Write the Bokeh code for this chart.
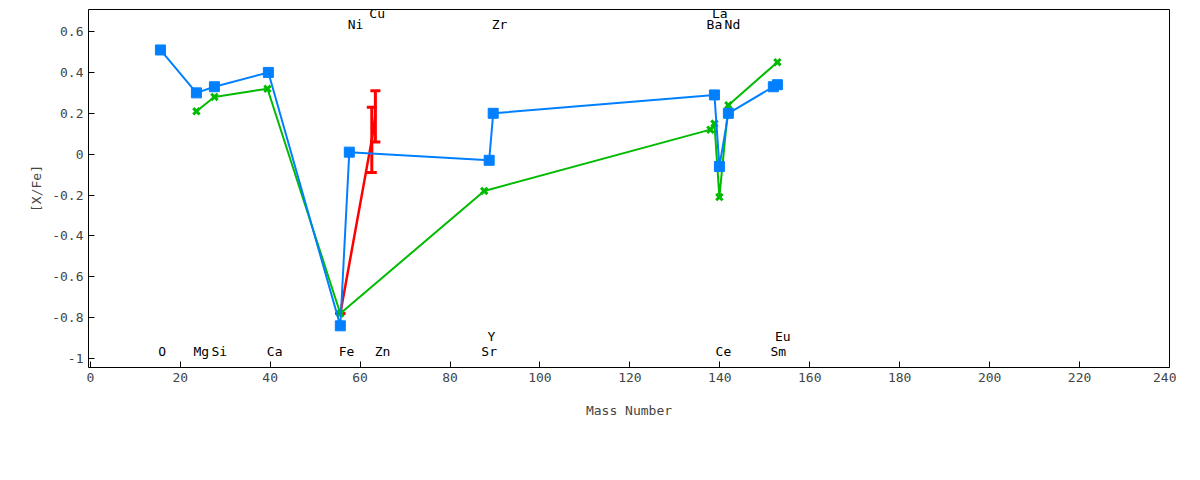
from bokeh.plotting import figure
from bokeh.models import Whisker, ColumnDataSource, Legend, LegendItem, FixedTicker, TeeHead
from bokeh.core.properties import value
from bokeh.embed import file_html
from bokeh.resources import INLINE

red_x = [55.6, 62.6, 63.4]
red_y = [-0.78, 0.07, 0.19]
red_lo = [-0.78, -0.09, 0.06]
red_hi = [-0.78, 0.23, 0.31]

green_x = [23.6, 27.6, 39.4, 55.6, 87.6, 137.9, 138.8, 139.9, 141.9, 152.8]
green_y = [0.21, 0.28, 0.32, -0.78, -0.18, 0.12, 0.15, -0.21, 0.24, 0.45]

blue_x = [15.6, 23.6, 27.6, 39.6, 55.6, 57.6, 88.7, 89.6, 138.8, 139.9, 141.9, 151.9, 152.8]
blue_y = [0.51, 0.30, 0.33, 0.40, -0.84, 0.01, -0.03, 0.20, 0.29, -0.06, 0.20, 0.33, 0.34]

elem_names = ["O", "Mg", "Si", "Ca", "Fe", "Zn", "Sr", "Y", "Ce", "Sm", "Eu", "Ni", "Cu", "Zr", "Ba", "La", "Nd"]
elem_x = [16, 24.7, 28.7, 41, 57, 65, 88.7, 89.2, 140.8, 153, 154, 59, 63.8, 91, 138.8, 140, 142.8]
elem_y = [-1.0, -1.0, -1.0, -1.0, -1.0, -1.0, -1.0, -0.93, -1.0, -1.0, -0.93, 0.6, 0.65, 0.6, 0.6, 0.65, 0.6]

FONT = "DejaVu Sans Mono"
p = figure(width=1176, height=464, output_backend="svg", toolbar_location=None,
           x_range=(-0.4, 240), y_range=(-1.044, 0.708),
           min_border_left=88, min_border_right=7, min_border_top=9, min_border_bottom=97)
p.grid.visible = False
p.outline_line_color = "black"
p.xaxis.ticker = FixedTicker(ticks=list(range(0, 241, 20)))
yt = [-1, -0.8, -0.6, -0.4, -0.2, 0, 0.2, 0.4, 0.6]
p.yaxis.ticker = FixedTicker(ticks=yt)
p.yaxis.major_label_overrides = {t: ("0" if t == 0 else f"{t:g}") for t in yt}
p.xaxis.axis_label = "Mass Number"
p.yaxis.axis_label = "[X/Fe]"
for ax in (p.xaxis, p.yaxis):
    ax.axis_label_text_font = FONT
    ax.axis_label_text_font_style = "normal"
    ax.axis_label_text_font_size = "13px"
    ax.major_label_text_font = FONT
    ax.major_label_text_font_size = "13px"
    ax.major_tick_in = 6
    ax.major_tick_out = 0
    ax.minor_tick_line_color = None
    ax.axis_line_color = None
p.xaxis.axis_label_standoff = 18

p.text(x=elem_x, y=elem_y, text=elem_names, text_font=value(FONT), text_font_size="13px",
       text_align="center", text_baseline="bottom", text_color="black")

rsrc = ColumnDataSource(dict(x=red_x, y=red_y, lo=red_lo, hi=red_hi))
rl = p.line(red_x, red_y, line_color="#ff0000", line_width=2.5)
p.add_layout(Whisker(source=rsrc, base="x", lower="lo", upper="hi", line_color="#ff0000", line_width=3,
                     upper_head=TeeHead(size=10, line_color="#ff0000", line_width=3),
                     lower_head=TeeHead(size=10, line_color="#ff0000", line_width=3)))

gl = p.line(green_x, green_y, line_color="#00bb00", line_width=2)
gm = p.scatter(green_x, green_y, marker="x", size=9, line_color="#00bb00", line_width=3)
bl = p.line(blue_x, blue_y, line_color="#0080ff", line_width=2)
bm = p.scatter(blue_x, blue_y, marker="square", size=10, fill_color="#0080ff", line_color="#0080ff")

legend = Legend(items=[LegendItem(label="T.V.Mishenina+(2002)", renderers=[rl]),
                       LegendItem(label="T.V.Mishenina+(2001)", renderers=[gl, gm]),
                       LegendItem(label="T.V.Mishenina+(2013)", renderers=[bl, bm])],
                orientation="horizontal", location=(183, -100),
                label_text_font=FONT, label_text_font_size="13px",
                border_line_color="black", glyph_width=45, padding=2, spacing=20,
                background_fill_alpha=0)
p.add_layout(legend)

open("out.html", "w").write(file_html(p, INLINE))
